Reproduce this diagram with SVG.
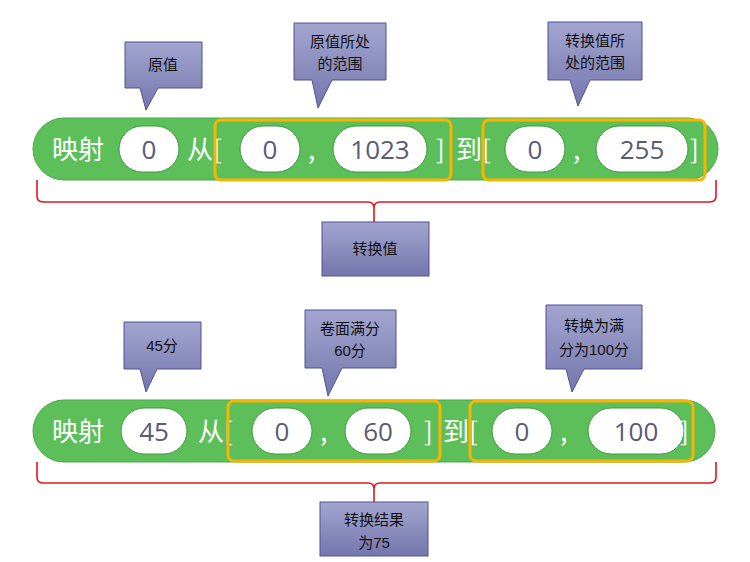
<svg xmlns="http://www.w3.org/2000/svg" width="750" height="562" viewBox="0 0 750 562">
<defs>
<linearGradient id="cg" x1="0" y1="0" x2="0" y2="1"><stop offset="0" stop-color="#a3a5cf"/><stop offset="1" stop-color="#7476ad"/></linearGradient>
<style>
.bar{fill:#5cbf5a;stroke:#4aa948;stroke-width:1}
.ov{fill:#fff;stroke:#3f9a3e;stroke-width:1}
.rng{fill:none;stroke:#f7b500;stroke-width:3}
.w{font-family:"Noto Sans CJK SC","Liberation Sans",sans-serif;font-size:26px;fill:#fff}
.n{font-family:"Open Sans","Noto Sans",sans-serif;font-size:26px;fill:#5a5a75;text-anchor:middle}
.c{fill:url(#cg);stroke:#4f5199;stroke-width:1}
.t{font-family:"Liberation Sans","Noto Sans CJK SC",sans-serif;font-size:15px;fill:#111;text-anchor:middle}
.br{fill:none;stroke:#e8141c;stroke-width:1.6}
</style>
</defs>
<g id="bar1">
<rect class="bar" x="33" y="118" width="685" height="62" rx="31"/>
<text class="w" x="52" y="159">映射</text>
<rect class="ov" x="119" y="126" width="60" height="46" rx="23"/><text class="n" x="149" y="159">0</text>
<text class="w" x="187" y="159">从[</text>
<rect class="rng" x="215" y="120" width="236" height="60" rx="6"/>
<rect class="ov" x="240" y="126" width="60" height="46" rx="23"/><text class="n" x="270" y="159">0</text>
<text class="w" x="308" y="159">,</text>
<rect class="ov" x="333" y="126" width="94" height="46" rx="23"/><text class="n" x="380" y="159">1023</text>
<text class="w" x="436" y="159">]</text>
<text class="w" x="456" y="159">到[</text>
<rect class="rng" x="483" y="120" width="222" height="60" rx="6"/>
<rect class="ov" x="505" y="126" width="60" height="46" rx="23"/><text class="n" x="535" y="159">0</text>
<text class="w" x="573" y="159">,</text>
<rect class="ov" x="596" y="126" width="92" height="46" rx="23"/><text class="n" x="642" y="159">255</text>
<text class="w" x="690" y="159">]</text>
</g>
<g id="bar2">
<rect class="bar" x="33" y="400" width="682" height="62" rx="31"/>
<text class="w" x="52" y="441">映射</text>
<rect class="ov" x="121" y="408" width="66" height="46" rx="23"/><text class="n" x="154" y="441">45</text>
<text class="w" x="198" y="441">从[</text>
<rect class="rng" x="228" y="401" width="212" height="60" rx="6"/>
<rect class="ov" x="252" y="408" width="60" height="46" rx="23"/><text class="n" x="282" y="441">0</text>
<text class="w" x="320" y="441">,</text>
<rect class="ov" x="345" y="408" width="66" height="46" rx="23"/><text class="n" x="378" y="441">60</text>
<text class="w" x="424" y="441">]</text>
<text class="w" x="443" y="441">到[</text>
<rect class="rng" x="470" y="401" width="223" height="60" rx="6"/>
<rect class="ov" x="492" y="408" width="60" height="46" rx="23"/><text class="n" x="522" y="441">0</text>
<text class="w" x="560" y="441">,</text>
<rect class="ov" x="588" y="408" width="96" height="46" rx="23"/><text class="n" x="636" y="441">100</text>
<text class="w" x="680" y="441">]</text>
</g>
<g id="connectors">
<path class="br" d="M37 180 V196 Q37 202 43 202 H368 Q374 202 374 208 V222 M374 208 Q374 202 380 202 H710 Q716 202 716 196 V180"/>
<path class="br" d="M37 462 V477 Q37 483 43 483 H368 Q374 483 374 489 V502 M374 489 Q374 483 380 483 H710 Q716 483 716 477 V462"/>
</g>
<g id="c1"><path class="c" d="M125 42 H202 V88 H158 L146 110 L140 88 H125 Z"/><text class="t" x="163" y="70">原值</text></g>
<g id="c2"><path class="c" d="M294 23 H386 V80 H332 L318 108 L312 80 H294 Z"/><text class="t" x="340" y="47">原值所处</text><text class="t" x="340" y="69">的范围</text></g>
<g id="c3"><path class="c" d="M548 22 H642 V80 H590 L578 106 L570 80 H548 Z"/><text class="t" x="595" y="46">转换值所</text><text class="t" x="595" y="68">处的范围</text></g>
<g id="c4"><rect class="c" x="322" y="222" width="107" height="54"/><text class="t" x="375" y="254">转换值</text></g>
<g id="c5"><path class="c" d="M124 322 H201 V369 H157 L146 392 L140 369 H124 Z"/><text class="t" x="162" y="351">45分</text></g>
<g id="c6"><path class="c" d="M305 310 H396 V368 H342 L328 396 L322 368 H305 Z"/><text class="t" x="350" y="334">卷面满分</text><text class="t" x="350" y="356">60分</text></g>
<g id="c7"><path class="c" d="M546 305 H642 V369 H584 L572 392 L566 369 H546 Z"/><text class="t" x="594" y="331">转换为满</text><text class="t" x="594" y="355">分为100分</text></g>
<g id="c8"><rect class="c" x="320" y="502" width="108" height="54"/><text class="t" x="374" y="525">转换结果</text><text class="t" x="374" y="548">为75</text></g>
</svg>
